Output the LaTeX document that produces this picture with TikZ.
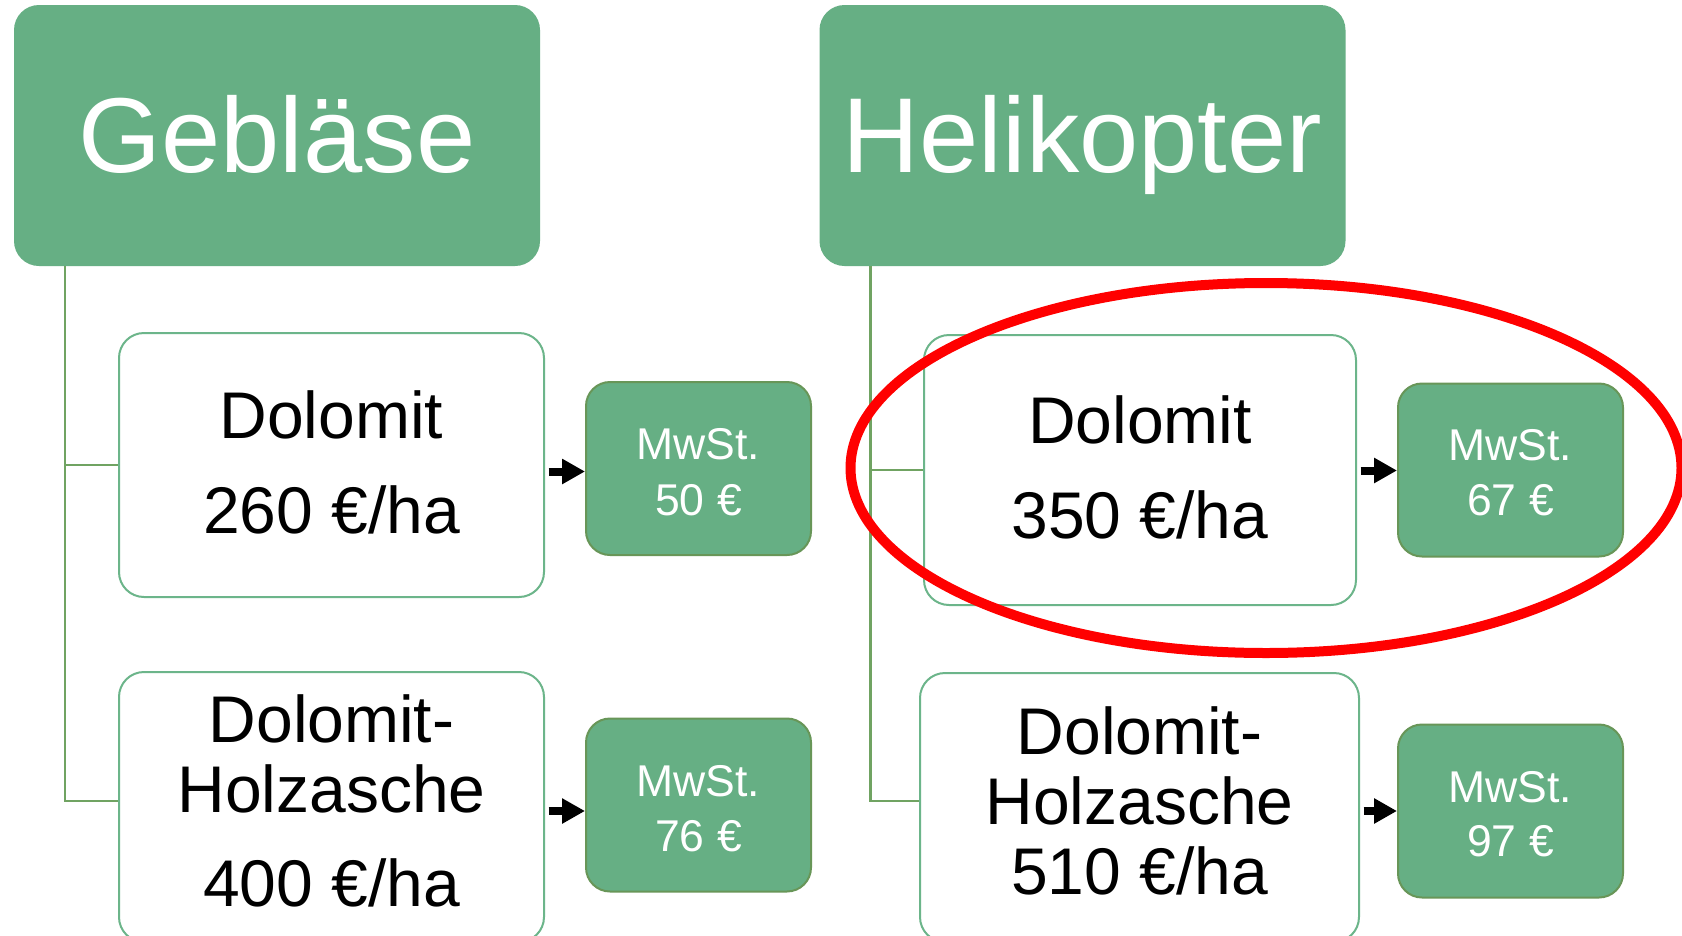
\documentclass[tikz,border=0pt]{standalone}
\usepackage{fontspec}
\setmainfont{Liberation Sans}
\usetikzlibrary{arrows.meta,calc,shapes.geometric}
\definecolor{hdr}{RGB}{102,175,132}
\definecolor{wbord}{RGB}{108,181,138}
\definecolor{mbord}{RGB}{104,150,88}
\definecolor{conn}{RGB}{112,163,98}
\tikzset{
  header/.style={rectangle, rounded corners=25pt, fill=hdr, draw=none, minimum width=526pt, minimum height=261pt, inner sep=0pt},
  item/.style={rectangle, rounded corners=25pt, fill=white, draw=wbord, line width=2pt, inner sep=0pt},
  tax/.style={rectangle, rounded corners=24pt, fill=hdr, draw=mbord, line width=2pt, minimum width=225pt, minimum height=173pt, inner sep=0pt},
  htext/.style={font=\fontsize{106.5}{110}\selectfont, text=white, anchor=base, inner sep=0pt},
  itext/.style={font=\fontsize{66}{70}\selectfont, text=black, anchor=base, inner sep=0pt},
  ttext/.style={font=\fontsize{44.5}{50}\selectfont, text=white, anchor=base, inner sep=0pt},
  tree/.style={draw=conn, line width=2.6pt},
  tarrow/.style={-{Triangle[length=23pt,width=24pt]}, line width=8pt, draw=black},
  redring/.style={ellipse, draw=red, line width=10pt, fill=none, inner sep=0pt}
}
\begin{document}
\begin{tikzpicture}[x=1pt,y=-1pt]
\useasboundingbox (0,0) rectangle (1682,935);
\clip (0,0) rectangle (1682,935);
\fill[white] (0,0) rectangle (1682,935);

% headers
\node[header] (g) at (277,135.5) {};
\node[htext] (gt) at (277,172) {Gebläse};
\node[header] (h) at (1082.5,135.5) {};
\node[htext] (ht) at (1082.5,172) {Helikopter};

% left items
\node[item, minimum width=425pt, minimum height=264pt] (ld) at (331.5,465) {};
\node[itext] (ld1) at (331.5,438) {Dolomit};
\node[itext] (ld2) at (331.5,533) {260 €/ha};

\node[item, minimum width=425pt, minimum height=270pt] (lh) at (331.5,807) {};
\node[itext] (lh1) at (331.5,742) {Dolomit-};
\node[itext] (lh2) at (331.5,812) {Holzasche};
\node[itext] (lh3) at (331.5,906) {400 €/ha};

% right items
\node[item, minimum width=432pt, minimum height=270pt] (rd) at (1140,470) {};
\node[itext] (rd1) at (1140,443) {Dolomit};
\node[itext] (rd2) at (1140,538) {350 €/ha};

\node[item, minimum width=439pt, minimum height=269pt] (rh) at (1139.5,807.5) {};
\node[itext] (rh1) at (1139.5,754) {Dolomit-};
\node[itext] (rh2) at (1139.5,824) {Holzasche};
\node[itext] (rh3) at (1139.5,894) {510 €/ha};

% tax boxes
\node[tax] (m1) at (698.5,468.5) {};
\node[ttext] (m1a) at (698.5,459) {MwSt.};
\node[ttext] (m1b) at (698.5,515) {50 €};
\node[tax] (m2) at (698.5,805) {};
\node[ttext] (m2a) at (698.5,796) {MwSt.};
\node[ttext] (m2b) at (698.5,851) {76 €};
\node[tax] (m3) at (1510.5,470) {};
\node[ttext] (m3a) at (1510.5,460) {MwSt.};
\node[ttext] (m3b) at (1510.5,515) {67 €};
\node[tax] (m4) at (1510.5,811) {};
\node[ttext] (m4a) at (1510.5,802) {MwSt.};
\node[ttext] (m4b) at (1510.5,856) {97 €};

% tree connectors
\draw[tree] ([xshift=51pt]g.south west) |- (ld.west);
\draw[tree] ([xshift=51pt]g.south west) |- ([yshift=-130pt]lh.north west);
\draw[tree] ([xshift=51pt]h.south west) |- (rd.west);
\draw[tree] ([xshift=51pt]h.south west) |- ([yshift=-129pt]rh.north west);

% arrows
\draw[tarrow] ($(ld.east |- m1.west)+(3.5pt,-3pt)$) -- ($(m1.west)+(0,-3pt)$);
\draw[tarrow] ($(lh.east |- m2.west)+(3.5pt,-6pt)$) -- ($(m2.west)+(0,-6pt)$);
\draw[tarrow] ($(rd.east |- m3.west)+(3.5pt,-0.5pt)$) -- ($(m3.west)+(0,-0.5pt)$);
\draw[tarrow] ($(rh.east |- m4.west)+(3.5pt,0)$) -- (m4.west);

% red highlight
\node[redring, minimum width=831pt, minimum height=370pt] (ring) at (1266,468) {};
\end{tikzpicture}
\end{document}
